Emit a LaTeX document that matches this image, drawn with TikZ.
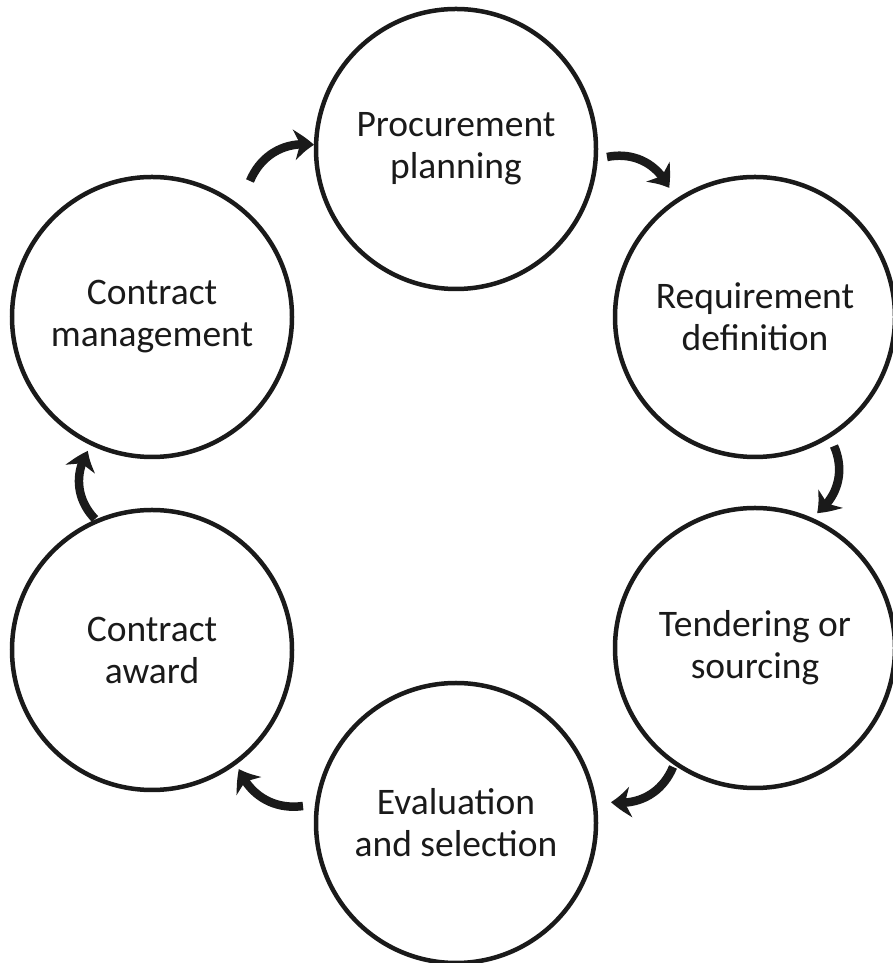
\documentclass[tikz,border=0pt]{standalone}
\usepackage{fontspec}
\setmainfont{Carlito}
\usetikzlibrary{arrows.meta,bending}
\definecolor{ink}{HTML}{1A1A1A}
\tikzset{
  stage/.style={circle, draw=ink, line width=4.5pt, minimum size=280pt, inner sep=0pt,
    align=center, text=ink, font=\fontsize{37.5}{42}\selectfont},
  flow/.style={draw=ink, line width=8.5pt, bend left=38,
    -{Stealth[length=20pt, width=30pt, inset=6pt, bend]}}
}
\begin{document}
\begin{tikzpicture}[x=1pt,y=1pt]
\useasboundingbox (0,0) rectangle (892,963);
\fill[white] (0,0) rectangle (892,963);
\node[stage] (pp) at (456,814) {Procurement\\planning};
\node[stage] (rd) at (755,646) {Requirement\\definition};
\node[stage] (ts) at (755,315) {Tendering or\\sourcing};
\node[stage] (es) at (456,140) {Evaluation\\and selection};
\node[stage] (ca) at (152,313) {Contract\\award};
\node[stage] (cm) at (152,646) {Contract\\management};
\coordinate (a1s) at (250,782); \coordinate (a1e) at (314,818);
\coordinate (a2s) at (607,806); \coordinate (a2e) at (669,775);
\coordinate (a3s) at (834,517); \coordinate (a3e) at (817,450);
\coordinate (a4s) at (673,196); \coordinate (a4e) at (611,161);
\coordinate (a5s) at (303,157); \coordinate (a5e) at (239,194);
\coordinate (a6s) at (95,444); \coordinate (a6e) at (88,512);
\draw[flow] (a1s) to (a1e);
\draw[flow] (a2s) to (a2e);
\draw[flow] (a3s) to (a3e);
\draw[flow] (a4s) to (a4e);
\draw[flow] (a5s) to (a5e);
\draw[flow] (a6s) to (a6e);
\end{tikzpicture}
\end{document}
